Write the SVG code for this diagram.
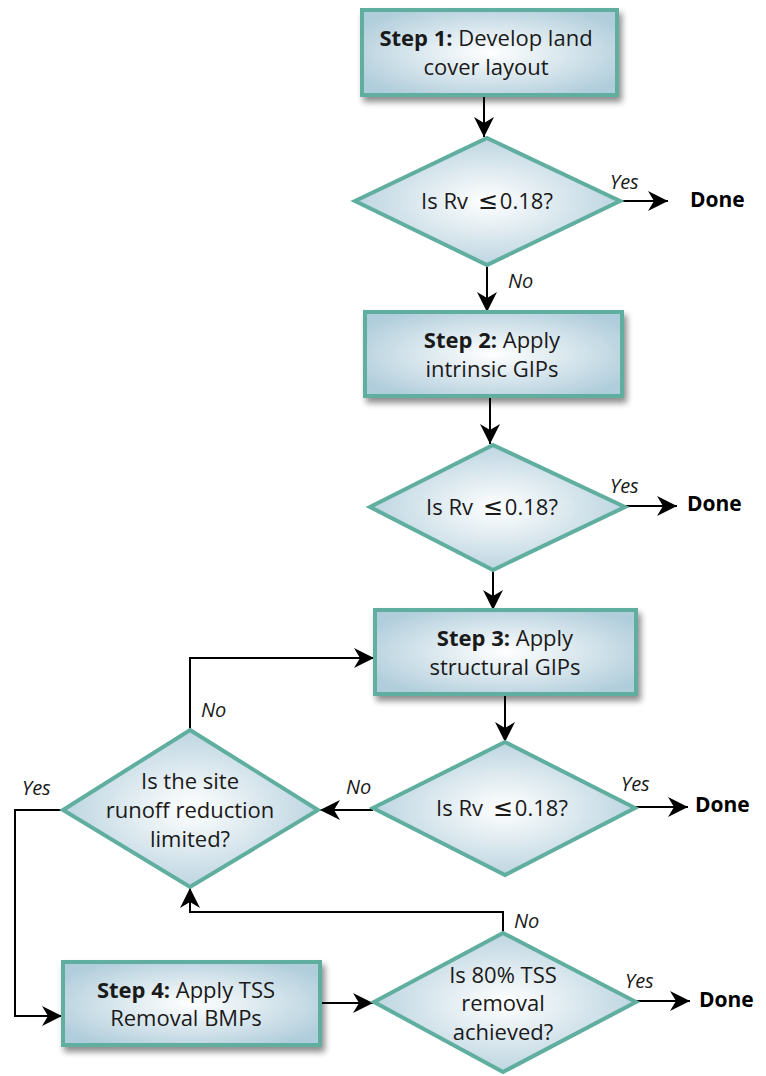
<svg xmlns="http://www.w3.org/2000/svg" width="766" height="1076" viewBox="0 0 766 1076">
<defs>
<radialGradient id="fill" cx="50%" cy="50%" r="60%">
<stop offset="0" stop-color="#ffffff"/>
<stop offset="1" stop-color="#b0cddb"/>
</radialGradient>
<filter id="sh" x="-10%" y="-10%" width="125%" height="140%">
<feGaussianBlur in="SourceAlpha" stdDeviation="3"/>
<feOffset dx="3" dy="5" result="b"/>
<feComponentTransfer><feFuncA type="linear" slope="0.45"/></feComponentTransfer>
<feMerge><feMergeNode/><feMergeNode in="SourceGraphic"/></feMerge>
</filter>
<marker id="ah" markerWidth="22" markerHeight="20" refX="20" refY="10" orient="auto" markerUnits="userSpaceOnUse">
<path d="M0,0 L20,10 L0,20 L6,10 Z" fill="#000"/>
</marker>
</defs>
<style>
.box{fill:url(#fill);stroke:#5fae9f;stroke-width:4;filter:url(#sh)}
.dia{fill:url(#fill);stroke:#5fae9f;stroke-width:4}
.t{font-family:"Open Sans","Liberation Sans",sans-serif;font-size:22px;fill:#1a1a1a;text-anchor:middle}
.b{font-weight:bold}
.le{font-family:"DejaVu Sans",sans-serif;font-size:24px}
.lbl{font-family:"Open Sans","Liberation Sans",sans-serif;font-size:20px;font-style:italic;fill:#1a1a1a}
.done{font-family:"Open Sans","Liberation Sans",sans-serif;font-size:21px;font-weight:bold;fill:#000}
.c{fill:none;stroke:#000;stroke-width:2}
</style>
<g id="connectors">
<path class="c" d="M484,95 V137" marker-end="url(#ah)"/>
<path class="c" d="M620,201 H668" marker-end="url(#ah)"/>
<path class="c" d="M487,265 V312" marker-end="url(#ah)"/>
<path class="c" d="M490,396 V444" marker-end="url(#ah)"/>
<path class="c" d="M625,506 H677" marker-end="url(#ah)"/>
<path class="c" d="M493,570 V610" marker-end="url(#ah)"/>
<path class="c" d="M190,730 V658 H374" marker-end="url(#ah)"/>
<path class="c" d="M505,694 V742" marker-end="url(#ah)"/>
<path class="c" d="M635,807 H688" marker-end="url(#ah)"/>
<path class="c" d="M373,810 H320" marker-end="url(#ah)"/>
<path class="c" d="M63,810 H15 V1016 H62" marker-end="url(#ah)"/>
<path class="c" d="M320,1003 H373" marker-end="url(#ah)"/>
<path class="c" d="M636,1001 H690" marker-end="url(#ah)"/>
<path class="c" d="M503,933 V912 H190 V888" marker-end="url(#ah)"/>
<text class="lbl" x="610" y="189">Yes</text>
<text class="lbl" x="508" y="288">No</text>
<text class="lbl" x="610" y="493">Yes</text>
<text class="lbl" x="201" y="717">No</text>
<text class="lbl" x="346" y="794">No</text>
<text class="lbl" x="621" y="791">Yes</text>
<text class="lbl" x="22" y="795">Yes</text>
<text class="lbl" x="514" y="928">No</text>
<text class="lbl" x="625" y="988">Yes</text>
<text class="done" x="690" y="207">Done</text>
<text class="done" x="687" y="511">Done</text>
<text class="done" x="695" y="812">Done</text>
<text class="done" x="699" y="1007">Done</text>
</g>
<g id="step1">
<rect class="box" x="362" y="10" width="255" height="85"/>
<text class="t" x="486" y="46"><tspan class="b">Step 1:</tspan> Develop land</text>
<text class="t" x="486" y="75">cover layout</text>
</g>
<g id="decision1">
<polygon class="dia" points="487,138 620,201 487,265 355,201"/>
<text class="t" x="487" y="209">Is Rv <tspan class="le" dx="4">≤</tspan><tspan dx="2">0.18?</tspan></text>
</g>
<g id="step2">
<rect class="box" x="365" y="312" width="257" height="84"/>
<text class="t" x="492" y="348"><tspan class="b">Step 2:</tspan> Apply</text>
<text class="t" x="492" y="377">intrinsic GIPs</text>
</g>
<g id="decision2">
<polygon class="dia" points="493,445 625,507 493,570 370,507"/>
<text class="t" x="492" y="515">Is Rv <tspan class="le" dx="4">≤</tspan><tspan dx="2">0.18?</tspan></text>
</g>
<g id="step3">
<rect class="box" x="375" y="610" width="261" height="84"/>
<text class="t" x="505" y="646"><tspan class="b">Step 3:</tspan> Apply</text>
<text class="t" x="505" y="675">structural GIPs</text>
</g>
<g id="decision3">
<polygon class="dia" points="505,742 635,808 505,875 373,808"/>
<text class="t" x="502" y="816">Is Rv <tspan class="le" dx="4">≤</tspan><tspan dx="2">0.18?</tspan></text>
</g>
<g id="limited">
<polygon class="dia" points="190,730 318,810 190,887 63,810"/>
<text class="t" x="190" y="789">Is the site</text>
<text class="t" x="190" y="818">runoff reduction</text>
<text class="t" x="190" y="847">limited?</text>
</g>
<g id="step4">
<rect class="box" x="63" y="962" width="257" height="83"/>
<text class="t" x="186" y="998"><tspan class="b">Step 4:</tspan> Apply TSS</text>
<text class="t" x="186" y="1026">Removal BMPs</text>
</g>
<g id="decision4">
<polygon class="dia" points="503,933 636,1002 503,1072 374,1002"/>
<text class="t" x="503" y="983">Is 80% TSS</text>
<text class="t" x="503" y="1011">removal</text>
<text class="t" x="503" y="1040">achieved?</text>
</g>
</svg>
